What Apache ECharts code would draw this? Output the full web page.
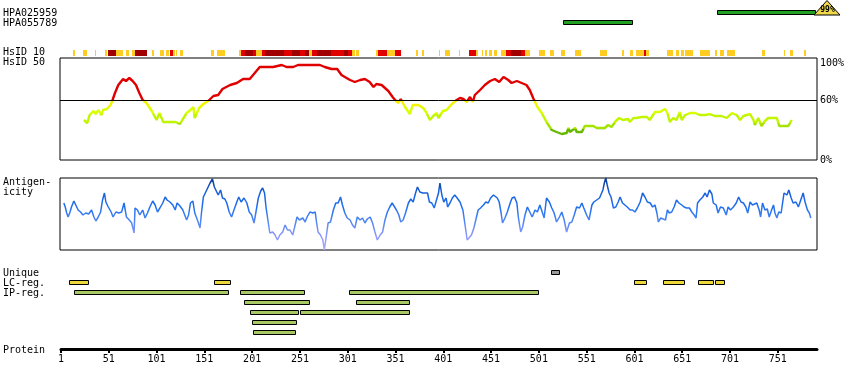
<!DOCTYPE html>
<html><head><meta charset="utf-8">
<script src="https://cdn.jsdelivr.net/npm/echarts@6/dist/echarts.min.js"></script>
<style>html,body{margin:0;padding:0;background:#fff}#c{width:850px;height:390px}</style>
</head><body><div id="c"></div><script>
// ---------------- DATA ----------------
const proteinLength = 792;
const axisFirstTick = 1;
const axisTickStep = 50;
const pctTickLabels = [0, 60, 100];

const antibodyNames = ['HPA025959', 'HPA055789'];
const antibodyRanges = [[687, 790], [526, 598]];
const antibodyIdentity = ['99%', ''];

// HsID 10 segments: [start, end, level] level 0=low(gold) 1=mid(red) 2=high(dark red)
const hsid10Segments = [
 [14,16,0],[24,28,0],[37,38,0],[47,49,0],[50,59,2],[59,66,0],[69,72,0],[75,78,0],[78,91,2],
 [96,98,0],[105,109,0],[111,114,0],[115,118,1],[118,120,0],[121,122,0],[126,129,0],
 [158,161,0],[164,173,0],[187,189,0],[189,194,1],[194,202,2],[202,205,1],[205,211,0],
 [211,215,1],[215,234,2],[234,243,1],[243,251,2],[251,256,1],[256,261,2],[261,264,0],
 [264,269,1],[269,284,2],[284,297,1],[297,301,2],[301,306,1],[306,309,0],[310,313,0],
 [331,333,0],[333,342,1],[342,350,0],[350,357,1],[372,375,0],[379,381,0],[396,398,0],
 [403,408,0],[417,419,0],[428,435,1],[435,437,0],[441,443,0],[445,447,0],[449,452,0],
 [454,457,0],[461,467,0],[467,472,1],[472,482,2],[482,486,1],[486,492,0],[501,507,0],
 [513,517,0],[524,528,0],[539,545,0],[565,572,0],[588,590,0],[596,599,0],[603,611,0],
 [611,613,1],[613,616,0],[635,641,0],[644,648,0],[650,653,0],[654,662,0],[670,680,0],
 [685,687,0],[691,695,0],[698,706,0],[734,738,0],[757,759,0],[764,767,0],[778,780,0]
];

// HsID 50 curve: [residue, percent identity]
const hsid50Points = [
 [25,40],[28.5,37],[31,45],[35,49],[37.5,46],[40,50],[43.5,45],[45,50],[49,51],[53,55],[55,60],
 [57.5,67],[61,75],[66,81],[69,79],[72.5,82],[76,79],[79.5,75],[83,67],[86.5,60],[90.5,57],
 [96,49],[101,40],[104,47],[108,38],[115,38],[121,38],[125.5,36],[128,40],[132.5,47],[136.5,50],
 [139.5,53],[141,42],[145.5,52],[150,56],[155,59],[160.5,64],[165.5,65],[170,71],[178,75],
 [185,77],[191.5,81],[198.5,81],[202,85],[209,93],[216,93],[223,93],[232,95],[237,93],[244,93],
 [249,95],[251,95],[272,95],[277,93],[284,91],[290,91],[294.5,85],[298,83],[300,85],[303.5,80],
 [308.5,78],[314,80],[319,81],[324,78],[328,73],[331,76],[336.5,75],[340,72],[343.5,69],[348,63],
 [350.5,60],[354,57],[356.5,61],[361,53],[366,46],[369,55],[375,55],[380,52],[383.5,47],[387,40],
 [390.5,44],[394,47],[396,42],[400.5,49],[404.5,50],[410,56],[415,60],[418.5,62],[422,61],
 [425.5,58],[429,63],[432,58],[434,65],[439.5,70],[444.5,75],[450,79],[455,81],[459.5,78],
 [464,83],[469,80],[472.5,77],[478,79],[483,77],[488,75],[491.5,70],[495,62],[499.5,53],[504,47],
 [509,38],[514.5,30],[519.5,28],[525,26],[530,27],[532,32],[533.5,28],[539,32],[540.5,28],
 [546,28],[549,34],[558,34],[561.5,32],[570,32],[573.5,35],[577,33],[581.5,39],[585,42],[589,40],
 [594.5,41],[596,38],[600,42],[603,42],[608.5,43],[614,43],[617,40],[622.5,48],[627.5,48],
 [633,51],[635.5,47],[638,38],[641.5,42],[645,40],[648.5,48],[650.5,40],[654,45],[659,47],
 [664.5,47],[669.5,45],[675,45],[680,46],[685,44],[692,44],[697.5,42],[703,47],[708,45],
 [711.5,40],[715,44],[722,46],[725.5,40],[727,35],[730.5,42],[734,34],[737.5,39],[741,42],
 [750,42],[752.5,34],[757,34],[762,34],[765.5,40]
];

// Antigenicity profile: [residue, score]
const antigenicityPoints = [
 [4,47],[5.5,43],[7,37],[8.5,33],[10.5,38],[12,43],[14.5,49],[16.5,45],[19,40],[21.5,38],[24,35],
 [27,37],[30,36],[33,40],[35.5,33],[37.5,29],[40,33],[42.5,38],[44.5,50],[46.5,57],[48,48],
 [50.5,43],[53.5,38],[55.5,33],[58.5,38],[61.5,37],[64.5,38],[67,47],[68.5,48],[69.5,33],
 [72.5,30],[75,27],[77.5,17],[78.5,42],[81,40],[83.5,35],[86.5,40],[89,32],[91.5,37],[94,43],
 [97,49],[99.5,45],[102,38],[104.5,42],[107.5,47],[110,53],[112,50],[115,48],[118,45],[120.5,40],
 [122.5,47],[125.5,44],[128.5,40],[130.5,35],[132.5,30],[134.5,35],[136.5,47],[139,49],[141,37],
 [143,32],[144.5,28],[146.5,22],[148,37],[150,53],[152.5,58],[155,63],[157,67],[159.5,71],
 [161.5,63],[163,60],[165.5,55],[168,60],[170,52],[172.5,51],[174.5,47],[177,38],[179.5,33],
 [182,40],[185,48],[187,53],[189.5,48],[192.5,52],[195.5,47],[198,38],[200.5,35],[203,27],
 [205,38],[207.5,52],[210,59],[212,62],[214,57],[215.5,43],[217.5,30],[219.5,17],[222.5,18],
 [225,15],[227.5,10],[230,15],[233,18],[235.5,25],[238,20],[240.5,20],[243.5,15],[246,25],
 [248,33],[250.5,30],[254,32],[256.5,28],[258.5,33],[261.5,38],[264.5,37],[267,38],[268.5,27],
 [270,18],[272.5,15],[275,10],[276.5,0],[278.5,13],[280.5,27],[283,28],[286,40],[288.5,47],
 [291,47],[293.5,53],[295.5,45],[298,37],[300.5,32],[303.5,30],[306,25],[308.5,22],[311,33],
 [314,30],[316.5,32],[319,27],[321.5,31],[324.5,33],[327,27],[329.5,18],[332,10],[335,15],
 [337.5,18],[340,30],[342.5,38],[345,43],[347.5,47],[349.5,45],[352,40],[354.5,35],[356.5,28],
 [359,30],[361.5,37],[364.5,47],[367,51],[369.5,48],[372,57],[374,63],[376.5,58],[379.5,57],
 [382,57],[384.5,57],[386.5,48],[389,47],[391.5,42],[393.5,40],[396,57],[397.5,67],[399.5,55],
 [401.5,48],[404,52],[405.5,43],[408,47],[410.5,52],[413,55],[415.5,52],[418.5,48],[421.5,40],
 [423.5,27],[426,10],[428,8],[430.5,15],[433,22],[435,30],[437.5,40],[440,42],[443,45],
 [445.5,48],[448,47],[450.5,52],[453.5,55],[455,57],[457.5,52],[459.5,48],[461.5,37],[463,27],
 [465.5,32],[468,38],[471,47],[473,52],[475.5,53],[478,47],[479.5,33],[482,18],[484,23],
 [486.5,35],[489,43],[491.5,38],[494,33],[497,40],[499.5,38],[502,45],[504.5,38],[506.5,32],
 [509,52],[512,48],[514.5,42],[517,37],[519.5,28],[522.5,33],[525,38],[527.5,30],[530,18],
 [533,27],[535.5,28],[538,35],[540.5,43],[543.5,42],[546,47],[548,42],[551,35],[553.5,30],
 [556.5,45],[558.5,48],[561.5,50],[564.5,52],[568,60],[569.5,67],[571,72],[572.5,65],[574.5,57],
 [576.5,53],[579,42],[581.5,43],[584,48],[586,53],[588.5,47],[591,45],[593.5,43],[596.5,40],
 [599,40],[601.5,38],[604,42],[607,48],[609.5,57],[612,53],[614.5,48],[617.5,47],[620,43],
 [622.5,45],[624.5,37],[626,28],[628.5,32],[631,31],[633.5,30],[635.5,40],[637.5,37],[640,38],
 [642.5,43],[645,50],[647.5,47],[650.5,45],[653,43],[655.5,42],[658.5,42],[661,38],[663.5,35],
 [665.5,32],[667,47],[669.5,50],[672.5,53],[675,57],[677,53],[679.5,60],[682,56],[683.5,47],
 [686.5,45],[688.5,37],[691,43],[694,42],[697,35],[699,43],[701.5,40],[704.5,43],[707.5,47],
 [710,53],[712.5,48],[715,47],[717.5,43],[719.5,37],[722,48],[724.5,45],[726.5,43],[729,47],
 [731.5,40],[733,33],[735,47],[737.5,40],[740,41],[742,33],[744.5,40],[746.5,45],[748,37],
 [750,32],[752,38],[754.5,37],[756,38],[757.5,57],[760.5,55],[762.5,60],[765,52],[767,47],
 [770,48],[772.5,43],[775,50],[777.5,57],[779.5,48],[782,40],[784,37],[785.5,32]
];

const uniqueRegions = [[514, 522]];
const lcRegions = [[9,29],[161,178],[601,613],[631,653],[667,683],[685,695]];
const ipRows = [
 [[15,176],[188,255],[302,500]],
 [[193,261],[310,365]],
 [[199,249],[251,365]],
 [[201,247]],
 [[202,246]]
];

const labelTexts = ['HPA025959','HPA055789','HsID 10','HsID 50','Antigen-','icity','Unique','LC-reg.','IP-reg.','Protein'];

// ---------------- LAYOUT / STYLE ----------------
const FONT = '"DejaVu Sans Mono", monospace';
const labelY = [13, 23, 52, 62, 182, 192.5, 273, 283, 293, 350];
const LANE = {ab: 0, hs10: 4, unique: 26, lc: 27, ip: 28};
const HS_COLORS = ['#ffcc22', '#e00000', '#a00000'];
const BOX_FILL = {0: '#22a022', 4: '#999999', 5: '#eed83a', 6: '#a8c864'};

const boxData = [];
antibodyRanges.forEach((r, i) => boxData.push([r[0], r[1], LANE.ab + i, 0, i]));
hsid10Segments.forEach(s => boxData.push([s[0], s[1], LANE.hs10, 1 + s[2], -1]));
uniqueRegions.forEach(r => boxData.push([r[0], r[1], LANE.unique, 4, -1]));
lcRegions.forEach(r => boxData.push([r[0], r[1], LANE.lc, 5, -1]));
ipRows.forEach((row, k) => row.forEach(r => boxData.push([r[0], r[1], LANE.ip + k, 6, -1])));

function renderBox(params, api) {
  const s = api.value(0), e = api.value(1), lane = api.value(2), kind = api.value(3), ab = api.value(4);
  const p0 = api.coord([s, lane]), p1 = api.coord([e, lane]);
  const cy = p0[1];
  const x0 = Math.round(p0[0]), x1 = Math.round(p1[0]);
  if (kind >= 1 && kind <= 3) {
    return {type: 'rect', shape: {x: x0, y: Math.round(cy) - 3, width: Math.max(1, x1 - x0), height: 6},
            style: {fill: HS_COLORS[kind - 1]}};
  }
  const rect = {type: 'rect', shape: {x: x0 + 0.5, y: Math.round(cy - 2.5) + 0.5, width: x1 - x0, height: 4},
                style: {fill: BOX_FILL[kind], stroke: '#000', lineWidth: 1}};
  if (kind === 0 && ab >= 0 && antibodyIdentity[ab]) {
    const bx = x1, by = Math.round(cy);
    return {type: 'group', children: [rect,
      {type: 'polygon', shape: {points: [[bx - 1, by + 2], [bx + 25, by + 2], [bx + 12, by - 12.5]]},
       style: {fill: '#f0d84a', stroke: '#000', lineWidth: 1}},
      {type: 'text', x: bx + 12.5, y: by - 3,
       style: {text: antibodyIdentity[ab], fill: '#000', font: 'bold 8px ' + FONT, align: 'center', verticalAlign: 'middle'}}
    ]};
  }
  return rect;
}

const gridBase = {left: 60, right: 33};
const chart = echarts.init(document.getElementById('c'), null, {renderer: 'canvas'});
chart.setOption({
  animation: false,
  backgroundColor: '#fff',
  grid: [
    Object.assign({top: 7.5, height: 330}, gridBase),
    Object.assign({top: 58, height: 102, show: true, borderColor: '#000', borderWidth: 1}, gridBase),
    Object.assign({top: 178, height: 72, show: true, borderColor: '#000', borderWidth: 1}, gridBase),
    {left: 61, right: 33, top: 339, height: 10}
  ],
  xAxis: [
    {gridIndex: 0, type: 'value', min: 0, max: proteinLength, show: false},
    {gridIndex: 1, type: 'value', min: 0, max: proteinLength, show: false},
    {gridIndex: 2, type: 'value', min: 0, max: proteinLength, show: false},
    {gridIndex: 3, type: 'value', min: axisFirstTick, max: proteinLength, interval: axisTickStep,
     axisLine: {show: true, lineStyle: {color: '#000', width: 3}},
     axisTick: {show: true, length: 4, lineStyle: {color: '#000', width: 2}},
     axisLabel: {color: '#000', fontFamily: FONT, fontSize: 10, margin: 5, showMaxLabel: false},
     splitLine: {show: false}}
  ],
  yAxis: [
    {gridIndex: 0, type: 'value', min: -0.5, max: 32.5, inverse: true, show: false},
    {gridIndex: 1, type: 'value', min: 0, max: 102, interval: 20, position: 'right',
     axisLine: {show: false}, axisTick: {show: false}, splitLine: {show: false},
     axisLabel: {color: '#000', fontFamily: FONT, fontSize: 10, margin: 3, showMaxLabel: false,
       rich: {top: {color: '#000', fontFamily: FONT, fontSize: 10, padding: [6, 0, 0, 0]}},
       formatter: v => pctTickLabels.indexOf(v) < 0 ? '' : (v === 100 ? '{top|' + v + '%}' : v + '%')}},
    {gridIndex: 2, type: 'value', min: 0, max: 72, show: false},
    {gridIndex: 3, type: 'value', show: false}
  ],
  visualMap: [
    {type: 'piecewise', show: false, seriesIndex: 1, dimension: 1, pieces: [
      {lt: 31, color: '#66b800'},
      {gte: 31, lt: 37, color: '#a4e400'},
      {gte: 37, lt: 46, color: '#c2f500'},
      {gte: 46, lt: 53, color: '#daff00'},
      {gte: 53, lt: 60, color: '#f4f400'},
      {gte: 60, color: '#e00000'}
    ]},
    {type: 'continuous', show: false, seriesIndex: 2, dimension: 1, min: 0, max: 72,
     inRange: {color: ['#a8a8ff', '#8c98fa', '#4f86f2', '#1f6fef', '#1760dc', '#0a3a8f']}}
  ],
  series: [
    {type: 'custom', xAxisIndex: 0, yAxisIndex: 0, renderItem: renderBox, data: boxData,
     encode: {x: [0, 1], y: 2}, clip: false, silent: true},
    {type: 'line', xAxisIndex: 1, yAxisIndex: 1, data: hsid50Points, showSymbol: false, symbol: 'none',
     lineStyle: {width: 2.4}, silent: true,
     markLine: {silent: true, symbol: 'none', label: {show: false},
       lineStyle: {color: '#000', width: 1, type: 'solid'}, data: [{yAxis: 60}]}},
    {type: 'line', xAxisIndex: 2, yAxisIndex: 2, data: antigenicityPoints, showSymbol: false, symbol: 'none',
     lineStyle: {width: 1.5}, silent: true}
  ],
  graphic: labelTexts.map((t, i) => ({
    type: 'text', x: 3, y: labelY[i], silent: true,
    style: {text: t, fill: '#000', font: '10px ' + FONT, verticalAlign: 'middle', align: 'left'}
  }))
});
</script></body></html>
